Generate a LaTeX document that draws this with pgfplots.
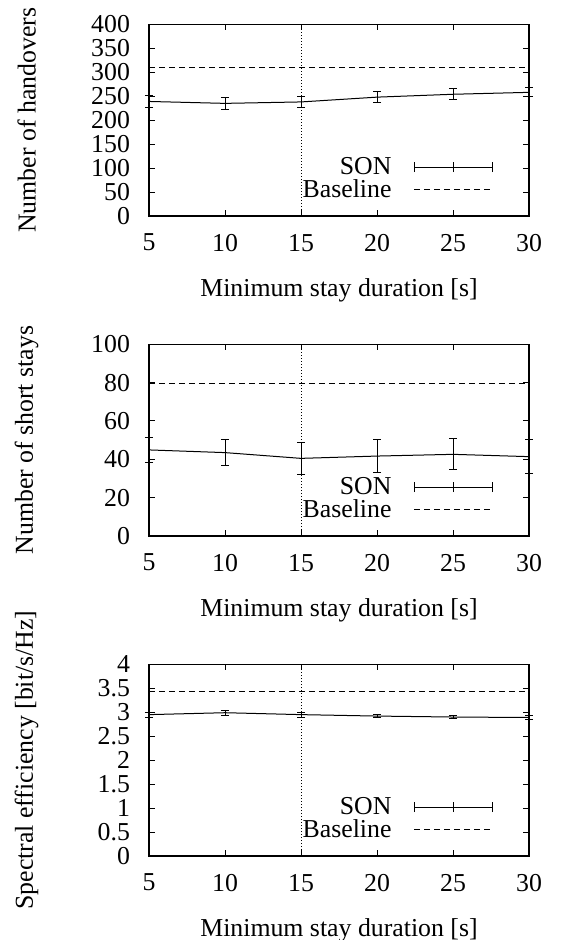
\documentclass[border=0pt]{standalone}
\usepackage{fontspec}
\setmainfont{Liberation Serif}
\usepackage{pgfplots}
\usepackage{pgfplotstable}
\pgfplotsset{compat=1.18}

\pgfplotstableread{
x y e
5 239 12
10 235 12
15 238 11
20 248 12
25 254 11.5
30 258 9.5
}\tabA
\pgfplotstableread{
x y e
5 44.9 6.6
10 43.5 6.7
15 40.5 8.2
20 41.7 8.8
25 42.6 8.1
30 41.4 8.9
}\tabB
\pgfplotstableread{
x y e
5 2.95 0.05
10 2.99 0.05
15 2.95 0.05
20 2.92 0.04
25 2.90 0.04
30 2.89 0.04
}\tabC

\newcommand{\fs}{\fontsize{12.9}{15}\selectfont}

\pgfplotsset{
  gp/.style={
    scale only axis, width=190pt, height=95.85pt,
    xmin=5, xmax=30, xtick={5,10,...,30},
    clip=false,
    axis line style={line width=0.6pt},
    tick style={black, line width=0.5pt},
    major tick length=3pt,
    tick align=inside,
    xtick pos=both, ytick pos=both,
    font=\fs,
    /pgf/number format/assume math mode=true,
    ticklabel style={font=\fs},
    xticklabel style={yshift=-5.5pt},
    yticklabel style={xshift=-6pt},
    xlabel={Minimum stay duration [s]},
    xlabel style={at={(axis description cs:0.5,-0.39)}, anchor=center},
    ylabel style={at={(axis description cs:-0.322,0.5)}, anchor=center},
    legend style={draw=none, fill=none, legend cell align=right,
      at={(rel axis cs:0.905,0.07)}, anchor=south east, inner sep=0pt,
      row sep=-1pt, /tikz/column sep=10pt, nodes={inner sep=1pt}, font=\fs},
    legend plot pos=right,
  },
  sonleg/.style={legend image code/.code={
      \draw[black, line width=0.5pt] (0pt,0pt) -- (39pt,0pt);
      \draw[black, line width=0.5pt] (0pt,-2.5pt) -- (0pt,2.5pt);
      \draw[black, line width=0.5pt] (19.5pt,-2.5pt) -- (19.5pt,2.5pt);
      \draw[black, line width=0.5pt] (39pt,-2.5pt) -- (39pt,2.5pt);}},
  son/.style={black, line width=0.5pt, mark=none,
    error bars/.cd, y dir=both, y explicit,
    error bar style={line width=0.5pt},
    error mark options={rotate=90, mark size=2pt, line width=0.5pt}},
  baseleg/.style={black, line width=0.5pt, dash pattern=on 3pt off 2pt,
    legend image code/.code={\draw[#1] (0pt,0pt) -- (39pt,0pt);}},
  vdot/.style={black, line width=0.5pt, dash pattern=on 0.5pt off 1pt, forget plot},
}

\begin{document}
\begin{tikzpicture}
\begin{axis}[gp, at={(0pt,0pt)}, anchor=north west,
  ymin=0, ymax=400, ytick={0,50,...,400},
  ylabel={Number of handovers}]
\addplot[vdot] coordinates {(15,0) (15,400)};
\addplot[sonleg, son] table[x=x, y=y, y error=e] {\tabA};
\addlegendentry{SON}
\addplot[baseleg] coordinates {(5,310) (30,310)};
\addlegendentry{Baseline}
\end{axis}

\begin{axis}[gp, at={(0pt,-160pt)}, anchor=north west,
  ymin=0, ymax=100, ytick={0,20,...,100},
  ylabel={Number of short stays}]
\addplot[vdot] coordinates {(15,0) (15,100)};
\addplot[sonleg, son] table[x=x, y=y, y error=e] {\tabB};
\addlegendentry{SON}
\addplot[baseleg] coordinates {(5,79.5) (30,79.5)};
\addlegendentry{Baseline}
\end{axis}

\begin{axis}[gp, at={(0pt,-320pt)}, anchor=north west,
  ymin=0, ymax=4, ytick={0,0.5,...,4},
  ylabel={Spectral efficiency [bit/s/Hz]}]
\addplot[vdot] coordinates {(15,0) (15,4)};
\addplot[sonleg, son] table[x=x, y=y, y error=e] {\tabC};
\addlegendentry{SON}
\addplot[baseleg] coordinates {(5,3.43) (30,3.43)};
\addlegendentry{Baseline}
\end{axis}

\pgfresetboundingbox
\path (-74.5pt,12.15pt) rectangle (206pt,-457.85pt);
\end{tikzpicture}
\end{document}
